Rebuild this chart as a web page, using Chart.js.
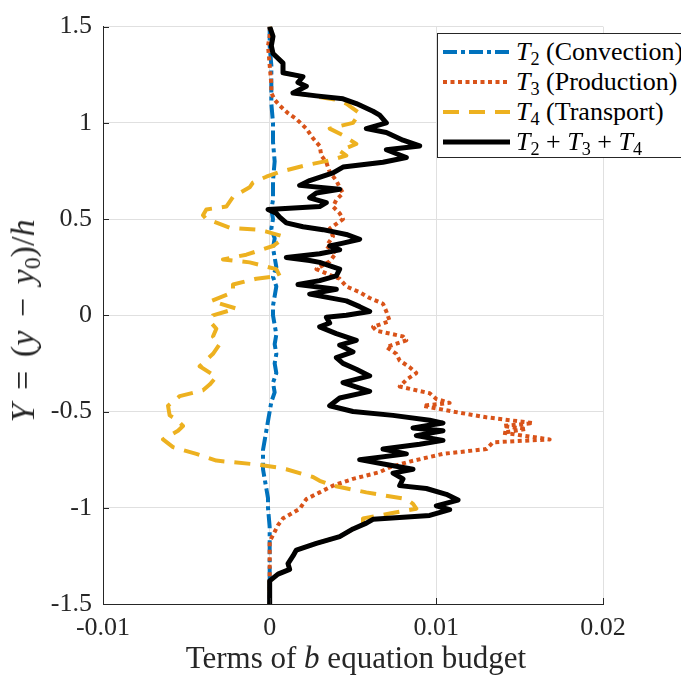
<!DOCTYPE html>
<html>
<head>
<meta charset="utf-8">
<script src="https://cdn.jsdelivr.net/npm/chart.js@4.4.1/dist/chart.umd.min.js"></script>
<style>
 body { margin: 0; background: #fff; }
 #wrap { position: relative; width: 681px; height: 677px; overflow: hidden; font-family: "Liberation Serif", serif; color: #262626; }
 #chart { position: absolute; left: 0; top: 0; }
 .xtitle { position: absolute; left: 356px; top: 642px; transform: translateX(-50%); font-family: "Liberation Serif", serif; font-size: 31px; line-height: 1; white-space: nowrap; }
 .ytitle { position: absolute; left: 23px; top: 321px; transform: translate(-50%, -50%) rotate(-90deg); font-family: "Liberation Serif", serif; font-size: 34px; line-height: 1; white-space: nowrap; }
 .ytitle .sp { display: inline-block; width: 0.4em; }
 sub { font-size: 0.7em; vertical-align: -0.25em; line-height: 0; }
 .legend { position: absolute; left: 437px; top: 33px; width: 300px; height: 123px; border: 1px solid #262626; background: #fff; font-family: "Liberation Serif", serif; font-size: 26px; }
 .legend .row { position: absolute; left: 5px; height: 30px; display: flex; align-items: center; white-space: nowrap; color: #000; }
 .legend svg { margin-right: 6px; }
</style>
</head>
<body>
<div id="wrap">
 <canvas id="chart" width="681" height="677"></canvas>
 <div class="ytitle"><i>Y</i><span class="sp"></span>=<span class="sp"></span>(<i>y</i><span class="sp"></span>&minus;<span class="sp"></span><i>y</i><sub>0</sub>)/<i>h</i></div>
 <div class="xtitle">Terms of <i>b</i> equation budget</div>
 <div class="legend" id="legend"></div>
</div>
<script>
// axis ticks
var xTickValues = [-0.01, 0, 0.01, 0.02];
var xTickLabels = ["-0.01", "0", "0.01", "0.02"];
var yTickValues = [-1.5, -1, -0.5, 0, 0.5, 1, 1.5];
var yTickLabels = ["-1.5", "-1", "-0.5", "0", "0.5", "1", "1.5"];

// T2 (convection)
var t2Y = [1.5, 1.4, 1.3, 1.2, 1.1, 1.0, 0.9, 0.8, 0.7, 0.6, 0.55, 0.5, 0.45, 0.4, 0.35, 0.3, 0.25, 0.2, 0.15, 0.1, 0.05, 0.0,
 -0.05, -0.1, -0.15, -0.2, -0.25, -0.3, -0.35, -0.4, -0.45, -0.5, -0.55, -0.6, -0.65, -0.7, -0.75, -0.8, -0.85, -0.9, -0.95, -1.0, -1.1, -1.2, -1.5];
var t2X = [0, 0, 0.0001, 0.0001, 0.0001, 0.0002, 0.0002, 0.0003, 0.0002, 0.0002, 0.0001, 0.0002, 0.0001, 0.0003, 0.0002, 0.0003, 0.0004, 0.0002, 0.0004, 0.0003, 0.0002, 0.0002,
 0.0003, 0.0004, 0.0003, 0.0004, 0.0003, 0.0004, 0.0002, 0.0003, 0.0001, 0, -0.0001, -0.0002, -0.0003, -0.0004, -0.0004, -0.0004, -0.0003, -0.0002, -0.0001, -0.0001, 0, 0, 0];

// T3 (production)
var t3Y = [1.5, 1.45, 1.4, 1.3, 1.2, 1.155, 1.12, 1.09, 1.05, 1.02, 0.97, 0.92, 0.88, 0.83, 0.795, 0.745, 0.7, 0.665, 0.635, 0.6, 0.565, 0.53, 0.5,
 0.45, 0.41, 0.36, 0.325, 0.28, 0.24, 0.21, 0.19, 0.15, 0.12, 0.09, 0.06, 0.02, -0.03, -0.06, -0.08, -0.11, -0.13, -0.165, -0.2, -0.235, -0.27,
 -0.3, -0.335, -0.37, -0.405, -0.435, -0.455, -0.47, -0.5, -0.53, -0.56, -0.575, -0.59, -0.61, -0.625, -0.645, -0.66, -0.695, -0.72, -0.76,
 -0.79, -0.815, -0.85, -0.885, -0.92, -0.955, -1.005, -1.055, -1.09, -1.125, -1.175, -1.5];
var t3X = [0, 0, -0.0001, 0, 0.0001, 0.0001, 0.0003, 0.0006, 0.0011, 0.0016, 0.0022, 0.0026, 0.003, 0.0031, 0.0034, 0.0036, 0.004, 0.0042, 0.0044, 0.004, 0.0038, 0.0042, 0.0044,
 0.0036, 0.0038, 0.0034, 0.004, 0.0036, 0.0028, 0.0036, 0.0042, 0.0046, 0.0054, 0.006, 0.0068, 0.007, 0.0072, 0.0062, 0.0064, 0.008, 0.0082, 0.007, 0.0076, 0.0078, 0.0084,
 0.0088, 0.0082, 0.0078, 0.0096, 0.01, 0.0108, 0.0092, 0.011, 0.013, 0.0158, 0.014, 0.0154, 0.014, 0.0152, 0.0168, 0.0134, 0.013, 0.0104, 0.0084,
 0.0072, 0.0066, 0.005, 0.0038, 0.003, 0.0022, 0.0018, 0.0008, 0.0005, 0.0003, 0, 0];

// T4 (transport)
var t4Y = [1.5, 1.45, 1.4, 1.36, 1.31, 1.26, 1.24, 1.21, 1.19, 1.155, 1.14, 1.12, 1.1, 1.05, 1.0, 0.97, 0.935, 0.89, 0.855, 0.83, 0.805, 0.78, 0.745,
 0.72, 0.69, 0.665, 0.615, 0.565, 0.55, 0.52, 0.5, 0.475, 0.455, 0.445, 0.435, 0.41, 0.385, 0.36, 0.315, 0.29, 0.275, 0.24, 0.205, 0.19, 0.16,
 0.12, 0.075, 0.035, 0.0, -0.03, -0.07, -0.11, -0.15, -0.2, -0.265, -0.32, -0.36, -0.39, -0.42, -0.47, -0.52, -0.54, -0.575, -0.6, -0.645,
 -0.685, -0.72, -0.755, -0.775, -0.79, -0.8, -0.84, -0.86, -0.885, -0.92, -0.955, -0.98, -1.005, -1.03, -1.055, -1.08, -1.11, -1.15, -1.185,
 -1.22, -1.25, -1.29, -1.32, -1.345, -1.38, -1.5];
var t4X = [0, 0.0002, 0.0001, 0.0002, 0.0008, 0.0008, 0.002, 0.0017, 0.0022, 0.0014, 0.0026, 0.004, 0.0046, 0.0054, 0.005, 0.0036, 0.0044, 0.0052, 0.0042, 0.0046, 0.0036, 0.0022, 0.0006,
 -0.0002, -0.001, -0.0012, -0.0022, -0.0026, -0.0038, -0.004, -0.0038, -0.003, -0.0024, -0.0008, -0.0002, 0.0008, 0.0006, 0.0002, -0.0014, -0.0028, -0.0012, 0.0004, 0.0006, -0.0008, -0.0022,
 -0.0022, -0.0035, -0.002, -0.0034, -0.0036, -0.0032, -0.0034, -0.003, -0.0034, -0.0042, -0.0032, -0.0036, -0.004, -0.0054, -0.0061, -0.006, -0.0056, -0.0052, -0.0055, -0.0064,
 -0.0058, -0.0044, -0.0032, -0.0008, 0.0004, 0.001, 0.0026, 0.003, 0.0038, 0.0058, 0.0082, 0.0086, 0.0088, 0.0072, 0.0056, 0.0056, 0.005, 0.0042, 0.0028,
 0.0016, 0.0014, 0.0011, 0.0012, 0.0005, 0, 0];

// T2 + T3 + T4
var sumY = [1.5, 1.45, 1.4, 1.36, 1.31, 1.26, 1.24, 1.21, 1.19, 1.155, 1.14, 1.125, 1.1, 1.06, 1.04, 1.0, 0.97, 0.95, 0.91, 0.88, 0.86, 0.82, 0.795,
 0.77, 0.74, 0.7, 0.675, 0.655, 0.635, 0.61, 0.585, 0.565, 0.55, 0.53, 0.51, 0.48, 0.46, 0.445, 0.42, 0.395, 0.375, 0.36, 0.34, 0.32, 0.3,
 0.285, 0.275, 0.24, 0.205, 0.18, 0.16, 0.135, 0.11, 0.075, 0.045, 0.02, 0.0, -0.01, -0.04, -0.06, -0.095, -0.13, -0.155, -0.19, -0.22,
 -0.25, -0.28, -0.315, -0.35, -0.395, -0.43, -0.47, -0.5, -0.52, -0.545, -0.56, -0.585, -0.6, -0.625, -0.65, -0.67, -0.695, -0.72, -0.75,
 -0.775, -0.8, -0.82, -0.85, -0.885, -0.9, -0.93, -0.96, -0.99, -1.01, -1.04, -1.06, -1.08, -1.11, -1.15, -1.185, -1.22, -1.25, -1.29,
 -1.32, -1.345, -1.38, -1.5];
var sumX = [0, 0.0002, 0.0001, 0.0002, 0.0008, 0.0008, 0.002, 0.0017, 0.0022, 0.0014, 0.0028, 0.0044, 0.0052, 0.0062, 0.0066, 0.007, 0.0058, 0.007, 0.008, 0.009, 0.007, 0.0082, 0.0068,
 0.0044, 0.0038, 0.0024, 0.0018, 0.0042, 0.0028, 0.0024, 0.0034, 0.003, -0.0001, 0.0004, 0.0006, 0.001, 0.002, 0.0032, 0.0046, 0.0054, 0.0044, 0.0036, 0.0042, 0.003, 0.001,
 0.0024, 0.003, 0.0042, 0.004, 0.003, 0.0017, 0.004, 0.0024, 0.0046, 0.0054, 0.006, 0.0046, 0.0034, 0.0036, 0.003, 0.004, 0.0052, 0.0042, 0.005, 0.004,
 0.0044, 0.0052, 0.006, 0.0044, 0.006, 0.0042, 0.0036, 0.005, 0.0074, 0.0096, 0.0104, 0.0086, 0.0104, 0.0088, 0.0104, 0.009, 0.0068, 0.0082, 0.0054,
 0.007, 0.0086, 0.0074, 0.008, 0.0078, 0.0094, 0.0106, 0.0113, 0.01, 0.0108, 0.0096, 0.0062, 0.0058, 0.005, 0.0042, 0.0028, 0.0016, 0.0014, 0.0011,
 0.0012, 0.0005, 0, 0];

var seriesNames = ["<i>T</i><sub>2</sub> (Convection)", "<i>T</i><sub>3</sub> (Production)", "<i>T</i><sub>4</sub> (Transport)",
 "<i>T</i><sub>2</sub> + <i>T</i><sub>3</sub> + <i>T</i><sub>4</sub>"];
var seriesColors = ["#0072BD", "#D95319", "#EDB120", "#000000"];
var seriesDashes = [[14, 4, 4, 4], [4, 3.5], [16, 10], []];
var seriesWidths = [4, 4, 4, 5];

function toPoints(ys, xs) {
 return ys.map(function (y, i) {
  return { x: xs[i], y: y };
 });
}

var seriesPoints = [toPoints(t2Y, t2X), toPoints(t3Y, t3X), toPoints(t4Y, t4X), toPoints(sumY, sumX)];

var datasets = seriesPoints.map(function (pts, i) {
 return {
  label: seriesNames[i],
  data: pts,
  showLine: true,
  pointRadius: 0,
  borderColor: seriesColors[i],
  backgroundColor: seriesColors[i],
  borderWidth: seriesWidths[i],
  borderDash: seriesDashes[i],
  borderCapStyle: "butt",
  borderJoinStyle: "round",
  tension: 0,
  order: 4 - i,
 };
});

// MATLAB-style ticks pointing into the axes
var innerTicks = {
 id: "innerTicks",
 afterDraw: function (chart) {
  var ctx = chart.ctx;
  var area = chart.chartArea;
  var xs = chart.scales.x;
  var ys = chart.scales.y;
  ctx.save();
  ctx.strokeStyle = "#262626";
  ctx.lineWidth = 1;
  ctx.beginPath();
  xTickValues.forEach(function (v) {
   var px = Math.round(xs.getPixelForValue(v)) + 0.5;
   ctx.moveTo(px, area.bottom);
   ctx.lineTo(px, area.bottom - 6);
  });
  yTickValues.forEach(function (v) {
   var py = Math.round(ys.getPixelForValue(v)) + 0.5;
   ctx.moveTo(area.left, py);
   ctx.lineTo(area.left + 6, py);
  });
  ctx.stroke();
  ctx.restore();
 },
};

var tickFont = { family: "Liberation Serif", size: 26 };

new Chart(document.getElementById("chart"), {
 type: "scatter",
 data: { datasets: datasets },
 options: {
  responsive: false,
  animation: false,
  layout: { padding: { top: 19, right: 78, left: 0, bottom: 0 } },
  plugins: {
   legend: { display: false },
   tooltip: { enabled: false },
  },
  scales: {
   x: {
    type: "linear",
    min: -0.01,
    max: 0.02,
    afterBuildTicks: function (scale) {
     scale.ticks = xTickValues.map(function (v) { return { value: v }; });
    },
    afterFit: function (scale) {
     scale.height = 73;
    },
    grid: { color: "#e0e0e0", lineWidth: 1, drawTicks: false },
    border: { color: "#262626", width: 1 },
    ticks: {
     font: tickFont,
     color: "#262626",
     padding: 9,
     maxRotation: 0,
     callback: function (value, index) {
      return xTickLabels[index];
     },
    },
   },
   y: {
    type: "linear",
    min: -1.5,
    max: 1.5,
    afterBuildTicks: function (scale) {
     scale.ticks = yTickValues.map(function (v) { return { value: v }; });
    },
    afterFit: function (scale) {
     scale.width = 103;
    },
    grid: { color: "#e0e0e0", lineWidth: 1, drawTicks: false },
    border: { color: "#262626", width: 1 },
    ticks: {
     font: tickFont,
     color: "#262626",
     padding: 11,
     callback: function (value, index) {
      return yTickLabels[index];
     },
    },
   },
  },
 },
 plugins: [innerTicks],
});

// legend box, drawn in html so the math labels can use sub/italic
var legendDiv = document.getElementById("legend");
seriesNames.forEach(function (name, i) {
 var row = document.createElement("div");
 row.className = "row";
 row.style.top = (3 + i * 30) + "px";
 var dash = seriesDashes[i].length ? ' stroke-dasharray="' + seriesDashes[i].join(" ") + '"' : "";
 row.innerHTML = '<svg width="67" height="10"><line x1="0" y1="5" x2="67" y2="5" stroke="' + seriesColors[i] +
  '" stroke-width="' + seriesWidths[i] + '"' + dash + '/></svg><span>' + name + "</span>";
 legendDiv.appendChild(row);
});
</script>
</body>
</html>
